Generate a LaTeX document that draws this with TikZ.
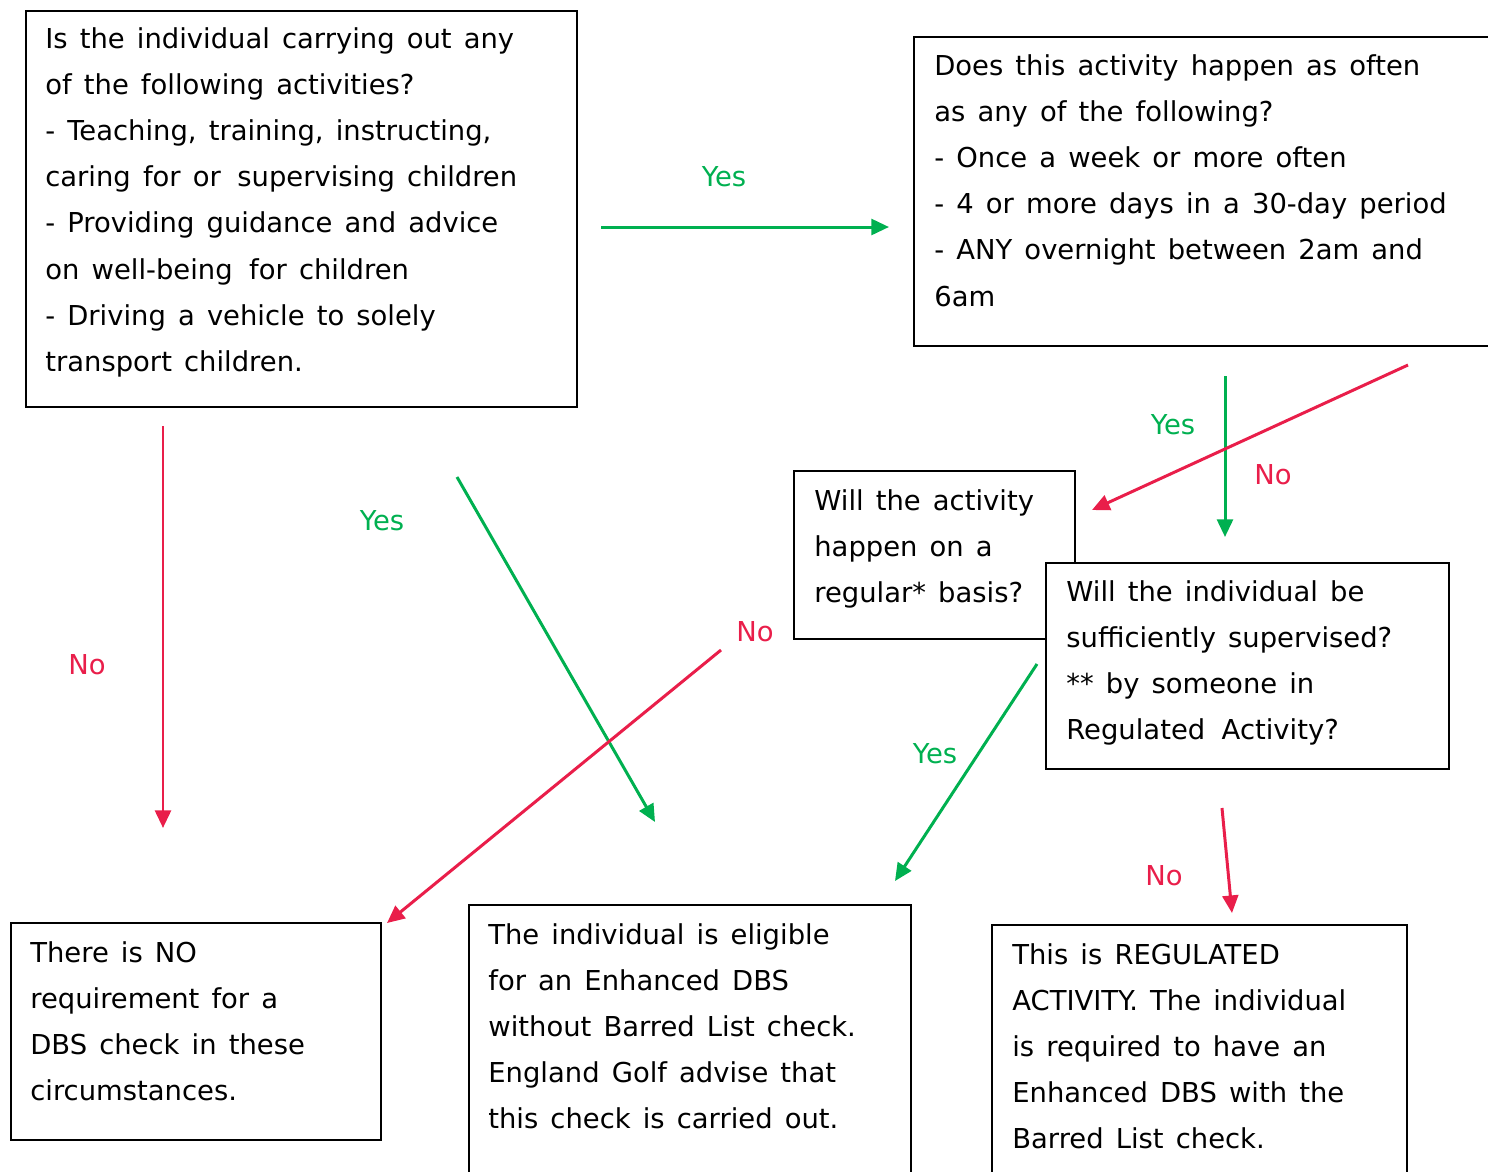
\documentclass[tikz,border=0pt]{standalone}
\usepackage{fontspec}
\setmainfont{DejaVu Sans}
\usetikzlibrary{arrows.meta}
\definecolor{yesgreen}{RGB}{0,176,80}
\definecolor{nored}{RGB}{233,30,74}
\begin{document}
\begin{tikzpicture}
  [x=0.02cm,y=-0.02cm,
   every node/.style={font=\fontsize{15.6pt}{26.3pt}\selectfont},
   qbox/.style 2 args={draw,fill=white,line width=1.1pt,anchor=north west,
     inner sep=0pt,minimum width=#1*0.02cm,minimum height=#2*0.02cm},
   qtext/.style={anchor=base west,align=left,inner sep=0pt,text width=#1*0.02cm,
     execute at begin node={\spaceskip=6.9pt plus 1pt\relax}},
   yesarrow/.style={draw=yesgreen,line width=1.7pt,-{Triangle[length=10pt,width=9pt]}},
   noarrow/.style={draw=nored,line width=1.7pt,-{Triangle[length=10pt,width=9pt]}},
   yeslabel/.style={text=yesgreen,inner sep=0pt},
   nolabel/.style={text=nored,inner sep=0pt}]
  \useasboundingbox (0,0) rectangle (1488,1171);

  % boxes
  \node[qbox={551}{396}] (act) at (25,10) {};
  \node[qtext=540] (acttext) at (45,48) {Is the individual carrying out any\\
    of the following activities?\\
    - Teaching, training, instructing,\\
    caring for or\hspace{2.5pt} supervising children\\
    - Providing guidance and advice\\
    on well-being\hspace{2.5pt} for children\\
    - Driving a vehicle to solely\\
    transport children.};

  \node[qbox={600}{309}] (often) at (913,36) {};
  \node[qtext=580] (oftentext) at (934,75) {Does this activity happen as often\\
    as any of the following?\\
    - Once a week or more often\\
    - 4 or more days in a 30-day period\\
    - ANY overnight between 2am and\\
    6am};

  \node[qbox={281}{168}] (regular) at (793,470) {};
  \node[qtext=270] (regulartext) at (814,510) {Will the activity\\
    happen on a\\
    regular* basis?};

  \node[qbox={403}{206}] (superv) at (1045,562) {};
  \node[qtext=390] (supervtext) at (1066,601) {Will the individual be\\
    sufficiently supervised?\\
    {**} by someone in\\
    Regulated\hspace{2.5pt} Activity?};

  \node[qbox={370}{217}] (nocheck) at (10,922) {};
  \node[qtext=360] (nochecktext) at (30,962) {There is NO\\
    requirement for a\\
    DBS check in these\\
    circumstances.};

  \node[qbox={442}{300}] (enhanced) at (468,904) {};
  \node[qtext=440] (enhancedtext) at (488,944) {The individual is eligible\\
    for an Enhanced DBS\\
    without Barred List check.\\
    England Golf advise that\\
    this check is carried out.};

  \node[qbox={415}{300}] (regulated) at (991,924) {};
  \node[qtext=410] (regulatedtext) at (1012,964) {This is REGULATED\\
    ACTIVITY. The individual\\
    is required to have an\\
    Enhanced DBS with the\\
    Barred List check.};

  % arrow ends
  \coordinate (y1a) at (601,227);  \coordinate (y1b) at (889,227);
  \coordinate (n1a) at (163,426);  \coordinate (n1b) at (163,828);
  \coordinate (y2a) at (457,477);  \coordinate (y2b) at (655,822);
  \coordinate (n2a) at (721,650);  \coordinate (n2b) at (387,923);
  \coordinate (y3a) at (1225,376); \coordinate (y3b) at (1225,537);
  \coordinate (n3a) at (1408,365); \coordinate (n3b) at (1092,510);
  \coordinate (y4a) at (1037,664); \coordinate (y4b) at (895,881);
  \coordinate (n4a) at (1222,808); \coordinate (n4b) at (1232,913);

  \foreach \from/\to in {y1a/y1b,y2a/y2b,y3a/y3b,y4a/y4b}
    \draw[yesarrow] (\from) -- (\to);
  \foreach \from/\to in {n1a/n1b,n2a/n2b,n3a/n3b,n4a/n4b}
    \draw[noarrow] (\from) -- (\to);

  % labels
  \node[yeslabel] (yes1) at (724,177) {Yes};
  \node[nolabel] (no1) at (87,665) {No};
  \node[yeslabel] (yes2) at (382,521) {Yes};
  \node[nolabel] (no2) at (755,632) {No};
  \node[yeslabel] (yes3) at (1173,425) {Yes};
  \node[nolabel] (no3) at (1273,475) {No};
  \node[yeslabel] (yes4) at (935,754) {Yes};
  \node[nolabel] (no4) at (1164,876) {No};

\end{tikzpicture}
\end{document}
